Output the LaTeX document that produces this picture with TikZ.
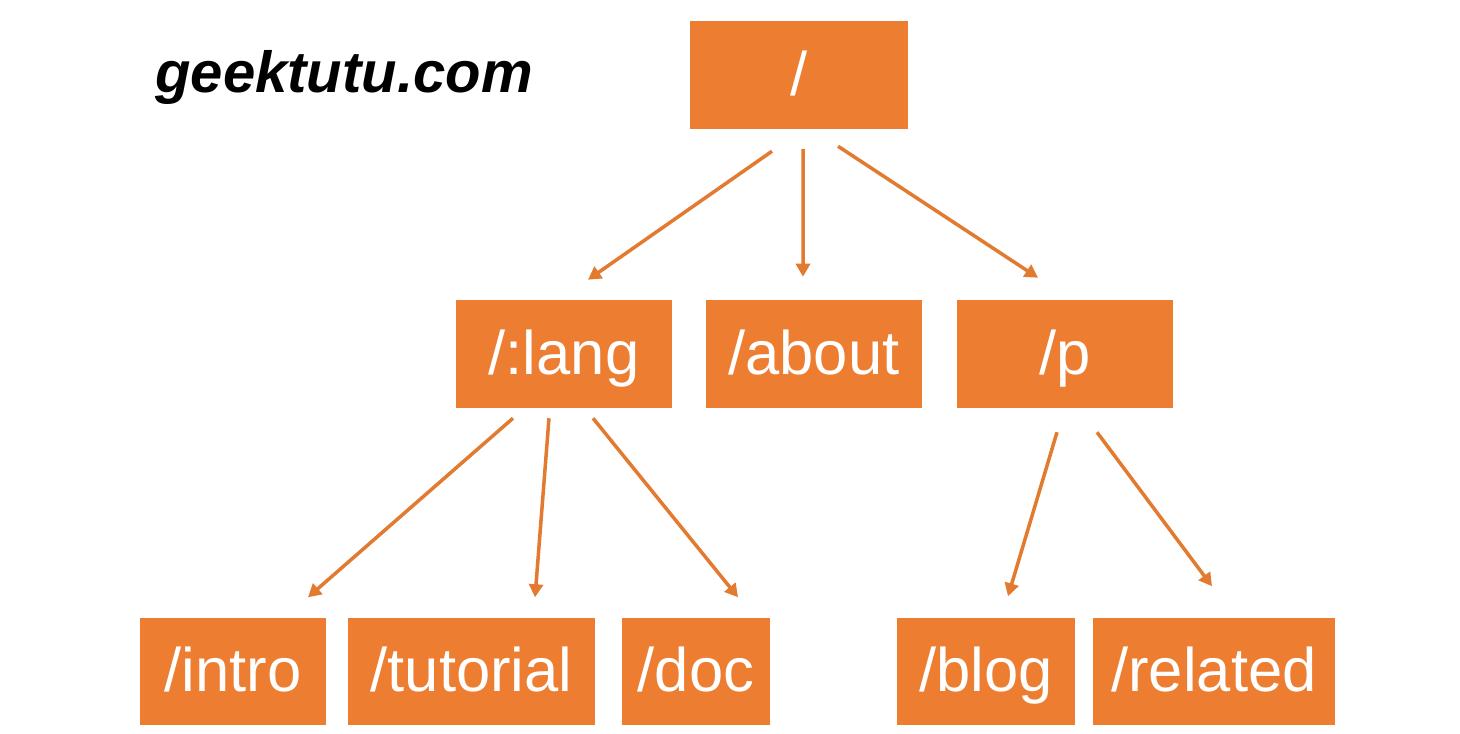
\documentclass[tikz,border=0pt]{standalone}
\usepackage{fontspec}
\setmainfont{Liberation Sans}
\usetikzlibrary{arrows.meta}

\definecolor{boxorange}{HTML}{ED7D31}
\definecolor{linkorange}{HTML}{E27A30}

\tikzset{
	route/.style = {fill=boxorange, draw=none, inner sep=0pt, text=white,
		minimum height=1.07cm, text height=0.44cm, text depth=0.04cm,
		font=\fontsize{17.5pt}{20pt}\selectfont},
	link/.style = {-{Triangle[length=0.13cm, width=0.14cm]}, draw=linkorange, line width=0.035cm}
}

\begin{document}
\begin{tikzpicture}[x=0.01cm, y=-0.01cm]
		\useasboundingbox (0,0) rectangle (1460,734);
		
		\node [font=\fontsize{16.5pt}{20pt}\selectfont\bfseries\itshape] (site) at (344,78) {geektutu.com};
		
		\node [route, minimum width=2.18cm] (root) at (799,75) {/};
		
		\node [route, minimum width=2.16cm] (lang) at (564,354) {/:lang};
		\node [route, minimum width=2.16cm] (about) at (814,354) {/about};
		\node [route, minimum width=2.16cm] (p) at (1065,354) {/p};
		
		\node [route, minimum width=1.86cm] (intro) at (233,671.5) {/intro};
		\node [route, minimum width=2.47cm] (tutorial) at (471.5,671.5) {/tutorial};
		\node [route, minimum width=1.48cm] (doc) at (696,671.5) {/doc};
		\node [route, minimum width=1.78cm] (blog) at (986,671.5) {/blog};
		\node [route, minimum width=2.42cm] (related) at (1214,671.5) {/related};
		
		\draw [link] ([xshift=-0.27cm, yshift=-0.22cm]root.south) -- ([xshift=0.24cm, yshift=0.20cm]lang.north);
		\draw [link] ([xshift=0.04cm, yshift=-0.20cm]root.south) -- ([xshift=-0.11cm, yshift=0.23cm]about.north);
		\draw [link] ([xshift=0.39cm, yshift=-0.17cm]root.south) -- ([xshift=-0.27cm, yshift=0.22cm]p.north);
		
		\draw [link] ([xshift=-0.51cm, yshift=-0.10cm]lang.south) -- ([xshift=0.75cm, yshift=0.20cm]intro.north);
		\draw [link] ([xshift=-0.15cm, yshift=-0.10cm]lang.south) -- ([xshift=0.635cm, yshift=0.20cm]tutorial.north);
		\draw [link] ([xshift=0.29cm, yshift=-0.10cm]lang.south) -- ([xshift=0.42cm, yshift=0.20cm]doc.north);
		
		\draw [link] ([xshift=-0.08cm, yshift=-0.24cm]p.south) -- ([xshift=0.22cm, yshift=0.21cm]blog.north);
		\draw [link] ([xshift=0.32cm, yshift=-0.24cm]p.south) -- ([xshift=-0.02cm, yshift=0.31cm]related.north);
		
\end{tikzpicture}
\end{document}
